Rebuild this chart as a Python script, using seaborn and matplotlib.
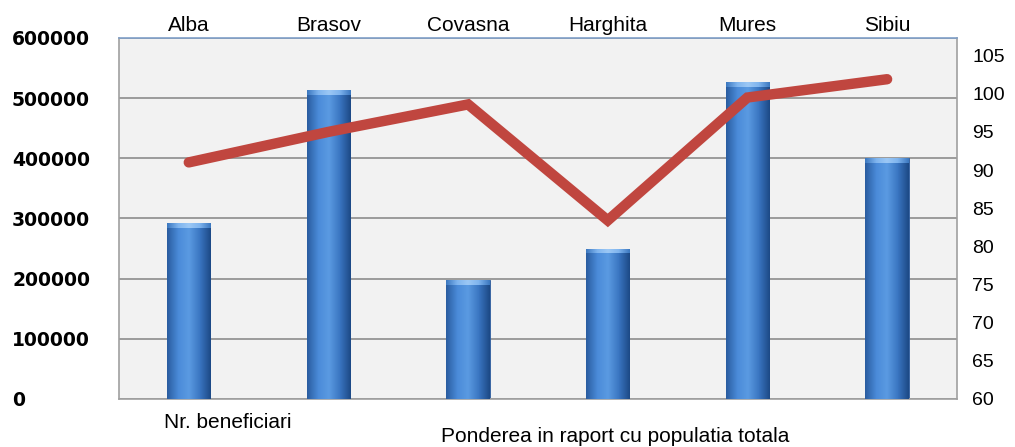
import numpy as np
import pandas as pd
import matplotlib
matplotlib.use("Agg")
import matplotlib.pyplot as plt
from matplotlib.colors import LinearSegmentedColormap
import seaborn as sns

# date
judete = ["Alba", "Brasov", "Covasna", "Harghita", "Mures", "Sibiu"]
beneficiari = [293000, 513000, 197000, 250000, 527000, 400000]
pondere = [91.0, 95.0, 98.6, 83.4, 99.5, 101.9]
ticks_stanga = [0, 100000, 200000, 300000, 400000, 500000, 600000]
ticks_dreapta = [60, 65, 70, 75, 80, 85, 90, 95, 100, 105]

df = pd.DataFrame({"judet": judete, "beneficiari": beneficiari, "pondere": pondere})

sns.set_style("white")
plt.rcParams["font.family"] = ["Liberation Sans", "DejaVu Sans"]
plt.rcParams["text.color"] = "black"
plt.rcParams["xtick.color"] = "black"
plt.rcParams["ytick.color"] = "black"

fig = plt.figure(figsize=(10.15, 4.47), dpi=100)
ax = fig.add_axes([0.1172, 0.1074, 0.8256, 0.8076])
ax.set_facecolor("#f2f2f2")

sns.barplot(data=df, x="judet", y="beneficiari", color="#3b78c8", width=0.31,
            ax=ax, zorder=2, edgecolor="#2a5a9c", linewidth=0.6)

# gradient pe bare (efect cilindru)
cmap = LinearSegmentedColormap.from_list(
    "cil", ["#2a5da0", "#4a8ad8", "#5b9be2", "#3a76c2", "#1d4a86"])
cmap_cap = LinearSegmentedColormap.from_list(
    "cap", ["#3c78c0", "#7fb4ee", "#9cc8f5", "#7fb4ee", "#3c78c0"])
grad = np.linspace(0, 1, 64).reshape(1, -1)
for bar in list(ax.patches):
    x, y = bar.get_x(), bar.get_y()
    w, h = bar.get_width(), bar.get_height()
    im = ax.imshow(grad, extent=[x, x + w, y, y + h], aspect="auto",
                   cmap=cmap, zorder=3)
    im.set_clip_path(bar)
    cap = ax.imshow(grad, extent=[x, x + w, y + h - 8000, y + h],
                    aspect="auto", cmap=cmap_cap, zorder=4)
    cap.set_clip_path(bar)

ax.set_xlim(-0.5, 5.5)
ax.set_ylim(0, 600000)
ax.set_yticks(ticks_stanga)
ax.set_yticklabels([str(t) for t in ticks_stanga])
ax.yaxis.grid(True, color="#8c8c8c", lw=1.2)
ax.set_axisbelow(True)
ax.tick_params(axis="y", length=0, pad=77, labelsize=13.5)
for lbl in ax.get_yticklabels():
    lbl.set_ha("left")
    lbl.set_fontfamily(["DejaVu Sans"])
    lbl.set_fontweight("bold")

ax.xaxis.tick_top()
ax.tick_params(axis="x", length=0, pad=2, labelsize=15)
ax.set_xlabel("")
ax.set_ylabel("")
for s in ax.spines.values():
    s.set_color("#a0a0a0")
    s.set_linewidth(1.2)
ax.spines["top"].set_color("#7f9fc8")

ax2 = ax.twinx()
sns.pointplot(data=df, x="judet", y="pondere", ax=ax2, color="#c0463f",
              markers="", linewidth=7.5, errorbar=None)
for ln in ax2.lines:
    ln.set_solid_capstyle("round")
    ln.set_solid_joinstyle("miter")
ax2.set_xlim(-0.5, 5.5)
ax2.set_ylim(60, 107.3)
ax2.set_yticks(ticks_dreapta)
ax2.set_yticklabels([str(t) for t in ticks_dreapta])
ax2.tick_params(axis="y", length=0, pad=11, labelsize=14)
ax2.set_ylabel("")
for s in ax2.spines.values():
    s.set_visible(False)

fig.text(164 / 1015, 1 - 423 / 447, "Nr. beneficiari", va="center", ha="left",
         fontsize=15)
fig.text(441 / 1015, 1 - 437 / 447, "Ponderea in raport cu populatia totala",
         va="center", ha="left", fontsize=15)

fig.savefig("out.png", dpi=100, facecolor="white")
